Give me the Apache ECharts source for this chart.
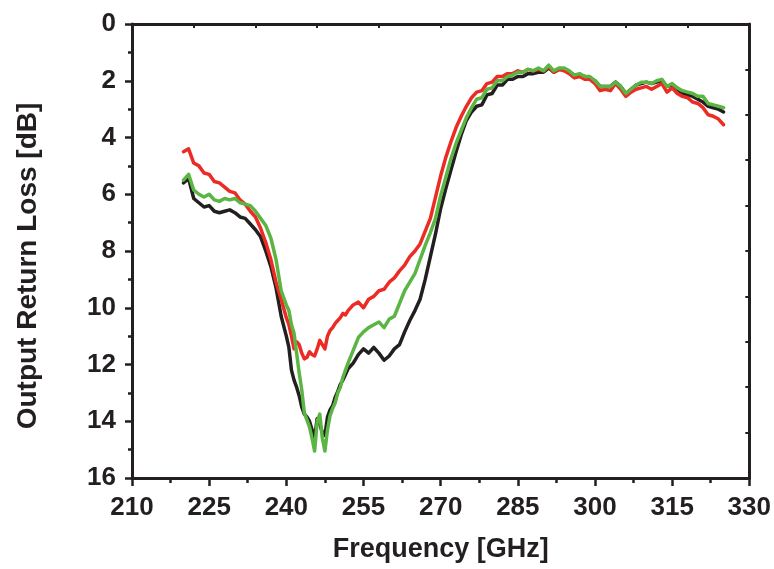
<!DOCTYPE html>
<html>
<head>
<meta charset="utf-8">
<script src="https://cdn.jsdelivr.net/npm/echarts@6/dist/echarts.min.js"></script>
<style>
  html, body { margin: 0; padding: 0; background: #fff; }
  #chart { width: 774px; height: 569px; }
</style>
</head>
<body>
<div id="chart"></div>
<script>
// Frequency sample points [GHz] (finer spacing through the resonance dip)
const freq = [
  220, 221, 222, 223, 224, 225, 226, 227, 228, 229, 230, 231, 232, 233, 234, 235, 236, 237, 238, 239, 240,
  240.5, 241, 241.5, 242, 242.5, 243, 243.5, 244, 244.5, 245, 245.5, 246, 246.5, 247, 247.5, 248, 248.5,
  249, 249.5, 250, 250.5, 251, 251.5, 252,
  253, 254, 255, 256, 257, 258, 259, 260, 261, 262, 263, 264, 265, 266, 267, 268, 269, 270,
  271, 272, 273, 274, 275, 276, 277, 278, 279, 280, 281, 282, 283, 284, 285, 286, 287, 288, 289, 290,
  291, 292, 293, 294, 295, 296, 297, 298, 299, 300, 301, 302, 303, 304, 305, 306, 307, 308, 309, 310,
  311, 312, 313, 314, 315, 316, 317, 318, 319, 320, 321, 322, 323, 324, 325
];

// Output return loss [dB], black trace
const lossBlack = [
  5.6, 5.45, 6.15, 6.3, 6.45, 6.4, 6.6, 6.65, 6.6, 6.55, 6.65, 6.8, 6.85, 7.05, 7.25, 7.5, 8.0, 8.55, 9.3, 10.3, 11.0,
  11.4, 12.2, 12.55, 12.8, 13.1, 13.5, 13.75, 13.85, 14.0, 14.3, 14.6, 13.9, 14.1, 14.4, 14.5, 13.85, 13.6,
  13.45, 13.15, 12.95, 12.7, 12.55, 12.35, 12.15,
  11.95, 11.65, 11.45, 11.6, 11.4, 11.6, 11.85, 11.7, 11.45, 11.3, 10.85, 10.45, 10.1, 9.7, 9.0, 8.2, 7.4, 6.5,
  5.8, 5.15, 4.5, 3.9, 3.4, 3.1, 2.9, 2.85, 2.5, 2.45, 2.15, 2.15, 1.95, 1.95, 1.85, 1.85, 1.75, 1.75, 1.7, 1.7,
  1.55, 1.7, 1.6, 1.6, 1.7, 1.8, 1.8, 1.85, 1.9, 2.0, 2.2, 2.2, 2.2, 2.05, 2.2, 2.45, 2.3, 2.15, 2.1, 2.05,
  2.1, 2.05, 2.0, 2.2, 2.15, 2.3, 2.45, 2.5, 2.55, 2.65, 2.75, 2.9, 2.95, 3.0, 3.1
];

// Output return loss [dB], red trace
const lossRed = [
  4.5, 4.4, 4.9, 5.0, 5.25, 5.3, 5.55, 5.6, 5.75, 5.9, 5.95, 6.2, 6.35, 6.6, 6.8, 7.2, 7.7, 8.3, 9.1, 9.7, 10.35,
  10.6, 11.0, 11.45, 11.2, 11.3, 11.6, 11.8, 11.75, 11.55, 11.65, 11.7, 11.45, 11.15, 11.3, 11.45, 11.0, 10.8,
  10.7, 10.55, 10.45, 10.35, 10.2, 10.25, 10.1,
  9.9, 9.8, 10.0, 9.7, 9.6, 9.4, 9.35, 9.1, 8.95, 8.7, 8.5, 8.2, 8.0, 7.75, 7.3, 6.85, 6.1, 5.35,
  4.7, 4.15, 3.65, 3.25, 2.9, 2.6, 2.4, 2.35, 2.1, 2.05, 1.85, 1.85, 1.75, 1.75, 1.65, 1.7, 1.6, 1.65, 1.6, 1.65,
  1.5, 1.7, 1.6, 1.65, 1.75, 1.9, 1.85, 1.95, 1.95, 2.1, 2.35, 2.3, 2.35, 2.1, 2.3, 2.55, 2.4, 2.3, 2.25, 2.2,
  2.3, 2.2, 2.1, 2.4, 2.25, 2.45, 2.55, 2.6, 2.75, 2.8, 2.95, 3.2, 3.25, 3.35, 3.55
];

// Output return loss [dB], green trace
const lossGreen = [
  5.5, 5.3, 5.85, 6.0, 6.1, 6.0, 6.2, 6.25, 6.15, 6.2, 6.15, 6.3, 6.35, 6.4, 6.6, 6.85, 7.1, 7.55, 8.3, 9.4, 9.9,
  10.1, 10.6, 10.9, 11.6, 12.3, 12.9, 13.7, 13.95, 14.2, 14.6, 15.05, 14.0, 13.75, 14.6, 15.05, 14.3, 13.8,
  13.55, 13.35, 13.0, 12.8, 12.45, 12.2, 11.95,
  11.5, 11.05, 10.85, 10.7, 10.6, 10.5, 10.7, 10.4, 10.3, 9.85, 9.4, 9.1, 8.8, 8.3, 7.8, 7.35, 6.85, 6.05,
  5.4, 4.75, 4.2, 3.75, 3.3, 2.95, 2.65, 2.6, 2.3, 2.25, 2.0, 2.0, 1.85, 1.8, 1.7, 1.7, 1.6, 1.65, 1.55, 1.65,
  1.45, 1.65, 1.55, 1.55, 1.65, 1.8, 1.75, 1.85, 1.85, 2.0, 2.2, 2.2, 2.2, 2.05, 2.2, 2.45, 2.3, 2.15, 2.05, 2.05,
  2.1, 2.0, 1.95, 2.2, 2.1, 2.25, 2.35, 2.4, 2.45, 2.55, 2.55, 2.8, 2.85, 2.9, 2.95
];

const FONT = '"Liberation Sans", Arial, Helvetica, sans-serif';
const INK = '#231f20';

function pairs(ys) {
  return freq.map((f, i) => [f, ys[i]]);
}

function trace(name, ys, color) {
  return {
    name: name,
    type: 'line',
    data: pairs(ys),
    xAxisIndex: 0,
    yAxisIndex: 0,
    showSymbol: false,
    smooth: false,
    lineStyle: { color: color, width: 3.5, join: 'round', cap: 'round' },
    itemStyle: { color: color },
    animation: false
  };
}

const chart = echarts.init(document.getElementById('chart'), null, { renderer: 'canvas' });

chart.setOption({
  animation: false,
  backgroundColor: '#ffffff',
  grid: { left: 132, right: 24, top: 24, bottom: 91, containLabel: false },
  xAxis: [
    {
      type: 'value',
      position: 'bottom',
      min: 210, max: 330, interval: 15,
      name: 'Frequency [GHz]',
      nameLocation: 'middle',
      nameGap: 58,
      nameTextStyle: { fontFamily: FONT, fontWeight: 'bold', fontSize: 27, color: INK },
      axisLine: { show: true, onZero: false, lineStyle: { color: INK, width: 3 } },
      axisTick: { show: true, inside: false, length: 8, lineStyle: { color: INK, width: 2.5 } },
      minorTick: { show: true, splitNumber: 2, length: 5, lineStyle: { color: INK, width: 2.5 } },
      axisLabel: { fontFamily: FONT, fontWeight: 'bold', fontSize: 26, color: INK, margin: 17 },
      splitLine: { show: false }
    },
    {
      // top frame edge with small inward ticks
      type: 'value',
      position: 'top',
      min: 0, max: 10, interval: 1,
      axisLine: { show: true, onZero: false, lineStyle: { color: INK, width: 3 } },
      axisTick: { show: true, inside: true, length: 4, lineStyle: { color: INK, width: 2 } },
      axisLabel: { show: false },
      splitLine: { show: false }
    }
  ],
  yAxis: [
    {
      type: 'value',
      position: 'left',
      inverse: true,
      min: 0, max: 16, interval: 2,
      name: 'Output Return Loss [dB]',
      nameLocation: 'middle',
      nameGap: 90,
      nameRotate: 90,
      nameTextStyle: {
        fontFamily: FONT, fontWeight: 'bold', fontSize: 28, color: INK,
        padding: [0, 30, 0, 0]
      },
      axisLine: { show: true, onZero: false, lineStyle: { color: INK, width: 3 } },
      axisTick: { show: true, inside: false, length: 7, lineStyle: { color: INK, width: 2.5 } },
      minorTick: { show: true, splitNumber: 2, length: 4, lineStyle: { color: INK, width: 2.5 } },
      axisLabel: { fontFamily: FONT, fontWeight: 'bold', fontSize: 26, color: INK, margin: 16 },
      splitLine: { show: false }
    },
    {
      // right frame edge with small inward ticks
      type: 'value',
      position: 'right',
      min: 0, max: 10, interval: 1,
      axisLine: { show: true, onZero: false, lineStyle: { color: INK, width: 3 } },
      axisTick: { show: true, inside: true, length: 4, lineStyle: { color: INK, width: 2 } },
      axisLabel: { show: false },
      splitLine: { show: false }
    }
  ],
  series: [
    trace('black', lossBlack, '#231f20'),
    trace('red', lossRed, '#ec2b24'),
    trace('green', lossGreen, '#5bb543')
  ]
});
</script>
</body>
</html>
